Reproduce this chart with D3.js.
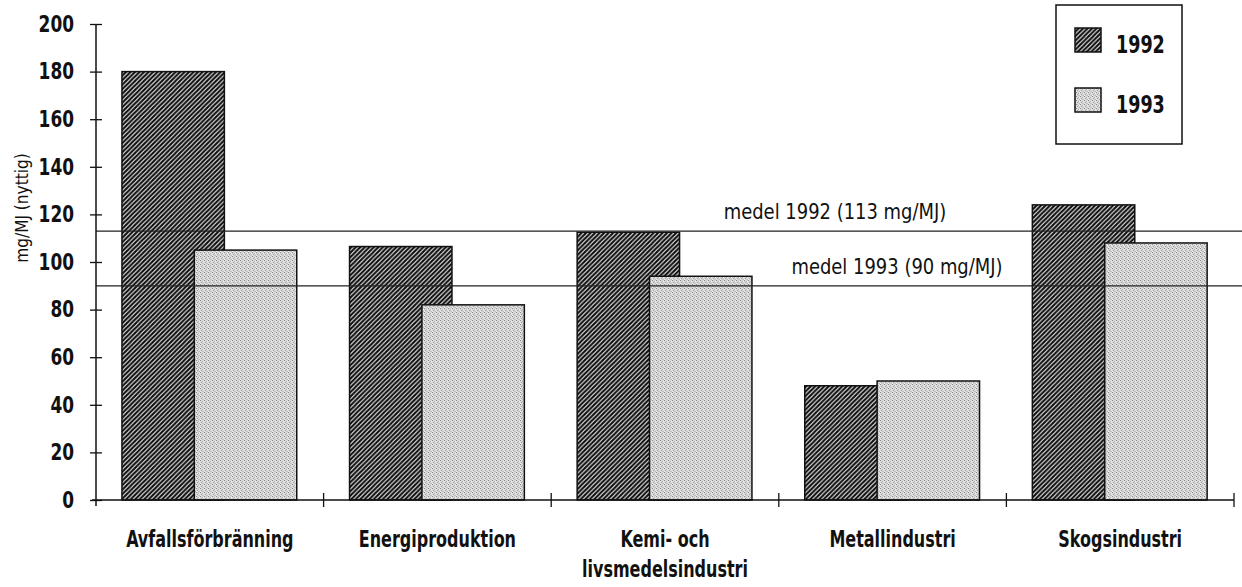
<!DOCTYPE html>
<html><head><meta charset="utf-8">
<script src="https://cdn.jsdelivr.net/npm/d3@7"></script>
<style>
html,body{margin:0;padding:0;background:#fff;}
svg{display:block;}
.f{font-family:"DejaVu Sans Condensed","Liberation Sans Narrow",sans-serif;}
</style></head>
<body>
<svg id="c" width="1242" height="587"></svg>
<script>
// ---- data ----
const categories = [["Avfallsförbränning"], ["Energiproduktion"], ["Kemi- och", "livsmedelsindustri"], ["Metallindustri"], ["Skogsindustri"]];
const series = ["1992", "1993"];
const values1992 = [180, 106.5, 112.5, 48, 124];
const values1993 = [105, 82, 94, 50, 108];
const means = [113, 90];
const meanLabels = ["medel 1992 (113 mg/MJ)", "medel 1993 (90 mg/MJ)"];
const yTicks = [0, 20, 40, 60, 80, 100, 120, 140, 160, 180, 200];
const yTitle = "mg/MJ (nyttig)";

(function(){
const svg = d3.select("#c");
const W = 1242;
const mLeft = 96, mRight = 1234, mTop = 24, mBottom = 500;

const defs = svg.append("defs");
const hatch = defs.append("pattern").attr("id","hatch").attr("patternUnits","userSpaceOnUse")
  .attr("width",4.5).attr("height",4.5);
hatch.append("rect").attr("width",4.5).attr("height",4.5).attr("fill","#fff");
hatch.append("path").attr("d","M-1,1 L1,-1 M0,4.5 L4.5,0 M3.5,5.5 L5.5,3.5")
  .attr("stroke","#111").attr("stroke-width",2.2);
const dots = defs.append("pattern").attr("id","dots").attr("patternUnits","userSpaceOnUse")
  .attr("width",4).attr("height",4);
dots.append("rect").attr("width",4).attr("height",4).attr("fill","#dadada");
[[0,0,"#8a8a8a"],[2,1,"#b0b0b0"],[1,2,"#a0a0a0"],[3,3,"#bcbcbc"],[3,1,"#f0f0f0"],[0,3,"#eeeeee"],[2,3,"#c8c8c8"]].forEach(p=>{
  dots.append("rect").attr("x",p[0]).attr("y",p[1]).attr("width",1).attr("height",1).attr("fill",p[2]);
});

const x = d3.scaleBand().domain(d3.range(categories.length)).range([mLeft, mRight]).padding(0);
const y = d3.scaleLinear().domain([0, 200]).range([mBottom, mTop]);
const bw = x.bandwidth();
const barW = bw * 0.45, off0 = bw * 0.114, step = bw * 0.318;

const data = [values1992, values1993];
const fills = ["url(#hatch)", "url(#dots)"];
data.forEach((vals, si) => {
  svg.append("g").selectAll("rect").data(vals).join("rect")
    .attr("x", (d,i) => x(i) + off0 + si*step)
    .attr("y", d => y(d))
    .attr("width", barW)
    .attr("height", d => y(0) - y(d))
    .attr("fill", fills[si])
    .attr("stroke", "#111").attr("stroke-width", 1.5);
});

means.forEach((m) => {
  svg.append("line").attr("x1", mLeft).attr("x2", W).attr("y1", y(m)).attr("y2", y(m))
    .attr("stroke", "#222").attr("stroke-width", 1.2);
});
function sText(g, x0, y0, sx, txt, size, weight, anchor){
  return g.append("text").attr("class","f")
    .attr("transform", `translate(${x0},${y0}) scale(${sx},1)`)
    .attr("font-size", size).attr("font-weight", weight || "normal")
    .attr("text-anchor", anchor || "start").attr("fill","#111").text(txt);
}
sText(svg, 835, y(means[0]) - 12, 0.95, meanLabels[0], 21, "normal", "middle");
sText(svg, 897, y(means[1]) - 12, 0.95, meanLabels[1], 21, "normal", "middle");

const ya = svg.append("g").attr("transform", `translate(${mLeft},0)`)
  .call(d3.axisLeft(y).tickValues(yTicks).tickSize(6).tickPadding(15).tickSizeOuter(0));
ya.select(".domain").remove();
ya.selectAll(".tick line").attr("x2", 6).attr("x1",-6).attr("stroke","#111").attr("stroke-width",1.3);
ya.selectAll(".tick text").attr("class","f").attr("font-size", 23).attr("font-weight","bold").attr("fill","#111")
  .attr("x", 0).attr("transform","translate(-22,0) scale(0.82,1)");
svg.append("line").attr("x1", mLeft).attr("x2", mLeft).attr("y1", mTop).attr("y2", mBottom + 6)
  .attr("stroke","#111").attr("stroke-width",1.5);

svg.append("line").attr("x1", mLeft - 4).attr("x2", mRight).attr("y1", mBottom).attr("y2", mBottom)
  .attr("stroke","#111").attr("stroke-width",1.5);
svg.append("g").selectAll("line").data(d3.range(1, categories.length + 1)).join("line")
  .attr("x1", i => mLeft + i*bw).attr("x2", i => mLeft + i*bw)
  .attr("y1", mBottom - 7).attr("y2", mBottom + 7).attr("stroke","#111").attr("stroke-width",1.3);

const cg = svg.append("g");
categories.forEach((lines, i) => {
  lines.forEach((ln, j) => {
    sText(cg, x(i) + bw/2, 547 + j*30, 0.79, ln, 22.5, "bold", "middle");
  });
});

svg.append("text").attr("class","f").attr("font-size", 18).attr("fill","#111")
  .attr("text-anchor","middle")
  .attr("transform", "translate(28,208) rotate(-90) scale(0.95,1)").text(yTitle);

svg.append("rect").attr("x",1056).attr("y",5).attr("width",126).attr("height",139)
  .attr("fill","#fff").attr("stroke","#111").attr("stroke-width",1.5);
series.forEach((s, i) => {
  svg.append("rect").attr("x",1075).attr("y", 28 + i*60).attr("width",26).attr("height",24)
    .attr("fill", fills[i]).attr("stroke","#111").attr("stroke-width",1.5);
  sText(svg, 1116, 53 + i*60, 0.78, s, 25, "bold", "start");
});
})();
</script>
</body></html>
